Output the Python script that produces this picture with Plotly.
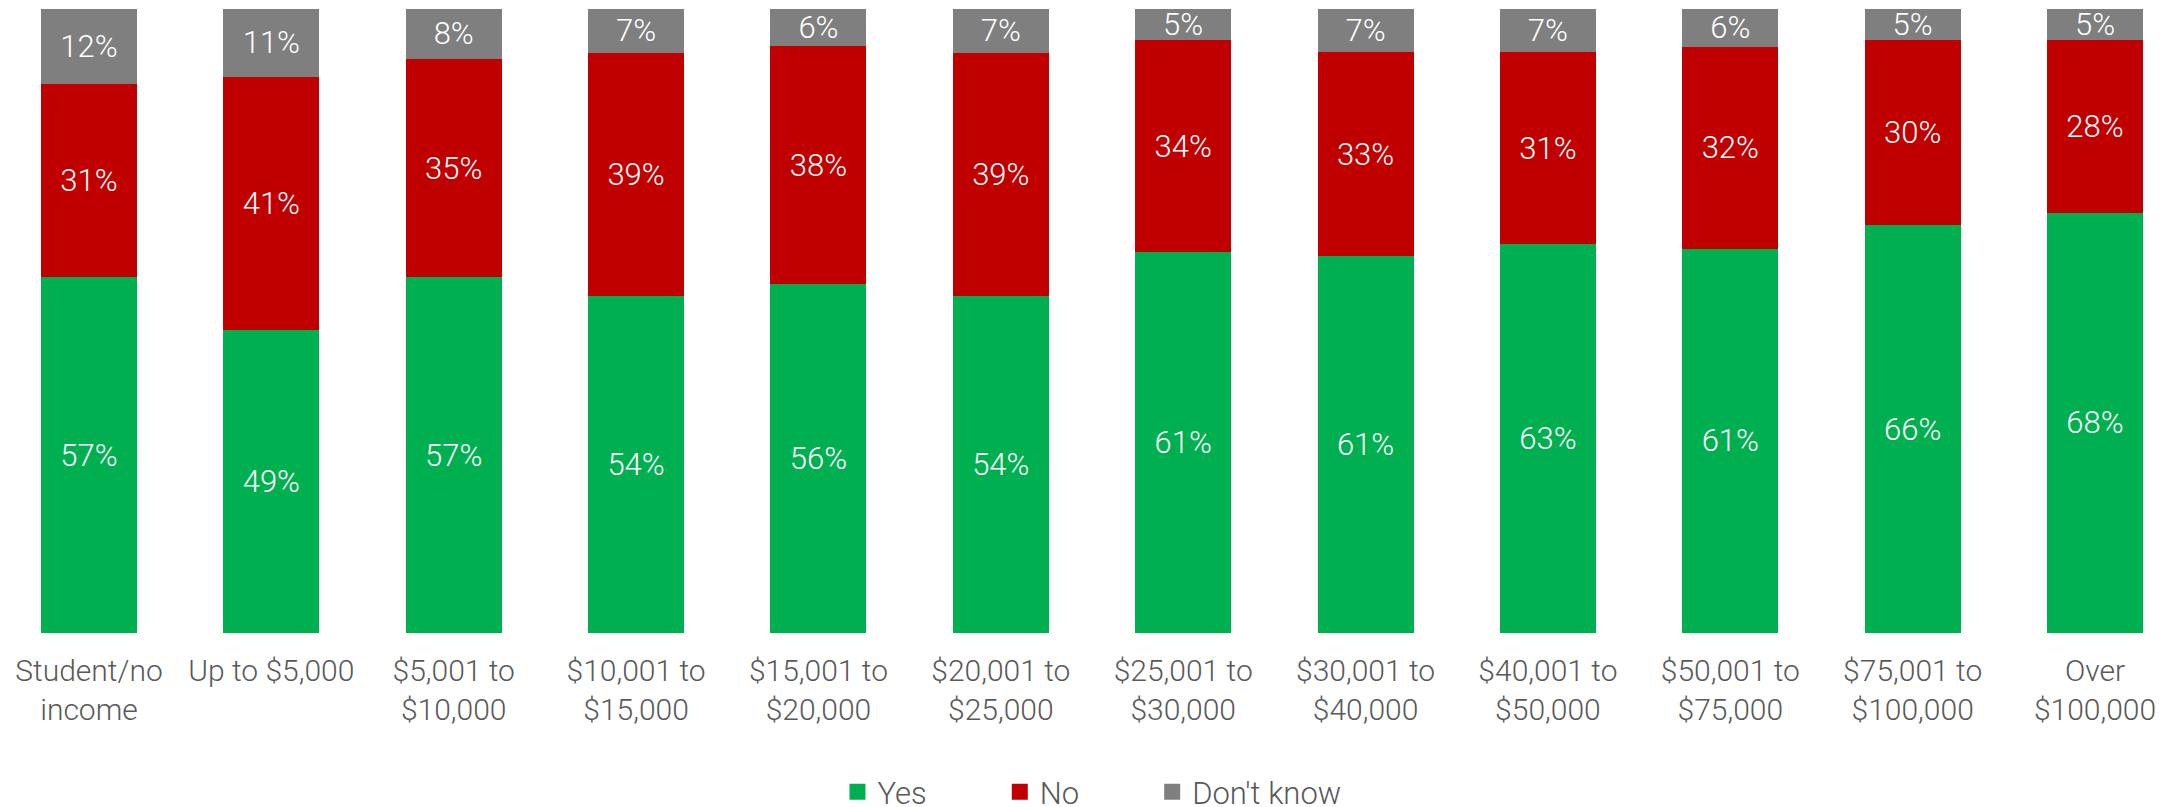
import plotly.graph_objects as go

categories = [
    "Student/no<br>income", "Up to $5,000", "$5,001 to<br>$10,000", "$10,001 to<br>$15,000",
    "$15,001 to<br>$20,000", "$20,001 to<br>$25,000", "$25,001 to<br>$30,000", "$30,001 to<br>$40,000",
    "$40,001 to<br>$50,000", "$50,001 to<br>$75,000", "$75,001 to<br>$100,000", "Over<br>$100,000",
]
yes = [57, 49, 57, 54, 56, 54, 61, 61, 63, 61, 66, 68]
no = [31, 41, 35, 39, 38, 39, 34, 33, 31, 32, 30, 28]
dont_know = [12, 11, 8, 7, 6, 7, 5, 7, 7, 6, 5, 5]

SERIES = [
    ("Yes", yes, "#00B050"),
    ("No", no, "#C00000"),
    ("Don't know", dont_know, "#7F7F7F"),
]

FONT = "Roboto"
PAD = "\u00a0" * 9  # extra room after each legend entry

fig = go.Figure()
for name, vals, color in SERIES:
    fig.add_trace(go.Bar(
        x=categories,
        y=vals,
        name=name,
        showlegend=False,
        marker=dict(color=color, line=dict(width=0)),
        width=0.526,
        text=[f"{v}%" for v in vals],
        textposition="inside",
        insidetextanchor="middle",
        constraintext="none",
        textangle=0,
        textfont=dict(family=FONT, size=31, color="#FFFFFF", weight=300),
        hovertemplate=f"<b>%{{x}}</b><br>{name}: %{{text}}<extra></extra>",
    ))

# legend proxies so the swatches are square and a bit larger
for name, _, color in SERIES:
    fig.add_trace(go.Scatter(
        x=[None], y=[None],
        mode="markers",
        name=name + PAD,
        marker=dict(symbol="square", size=18, color=color),
        showlegend=True,
    ))

fig.update_layout(
    barmode="stack",
    barnorm="percent",
    width=2168,
    height=815,
    margin=dict(l=0, r=0, t=1, b=190),
    paper_bgcolor="white",
    plot_bgcolor="white",
    font=dict(family=FONT, color="#595959"),
    xaxis=dict(
        range=[-0.444, 11.444],
        showgrid=False,
        zeroline=False,
        showline=False,
        ticks="",
        ticklabelstandoff=17,
        tickfont=dict(family=FONT, size=30, color="#595959", weight=300),
        automargin=False,
    ),
    yaxis=dict(range=[0, 100], visible=False, showgrid=False),
    legend=dict(
        orientation="h",
        x=0.3826,
        xanchor="left",
        y=-0.2548,
        yanchor="middle",
        font=dict(family=FONT, size=31, color="#595959", weight=300),
        traceorder="normal",
    ),
    showlegend=True,
)

fig.write_html("out.html")
